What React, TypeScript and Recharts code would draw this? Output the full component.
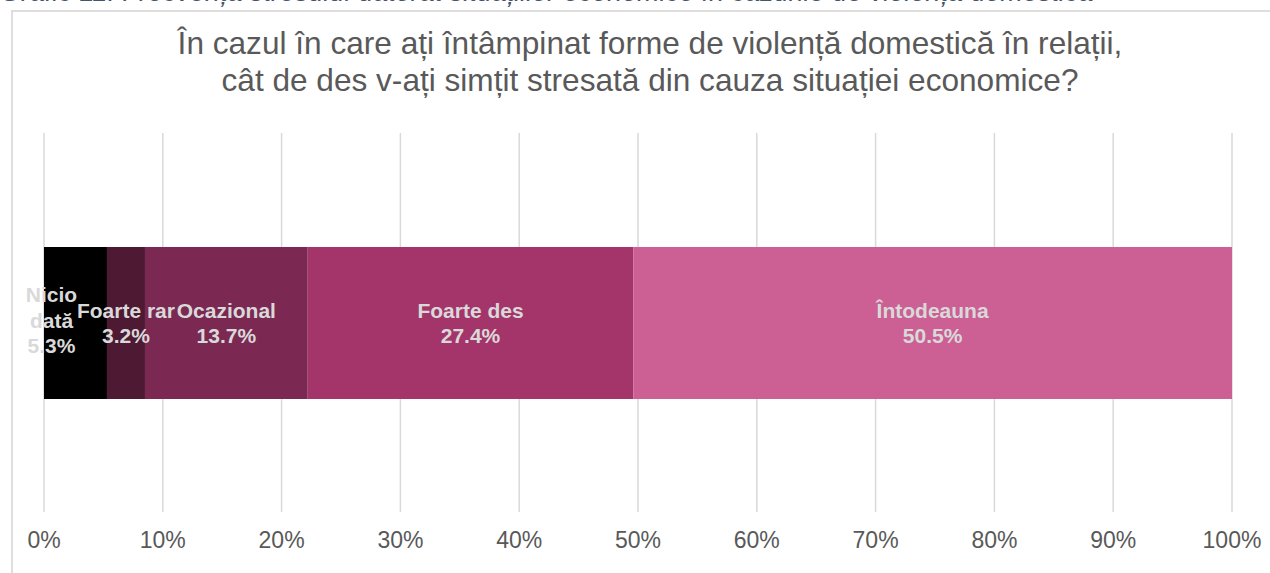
import React from "react";
import { BarChart, Bar, XAxis, YAxis, CartesianGrid, LabelList } from "recharts";

const caption =
  "Grafic 11. Frecvența stresului datorat situațiilor economice în cazurile de violență domestică";
const titleLines = [
  "În cazul în care ați întâmpinat forme de violență domestică în relații,",
  "cât de des v-ați simțit stresată din cauza situației economice?",
];
const categories = ["Nicio dată", "Foarte rar", "Ocazional", "Foarte des", "Întodeauna"];
const values = [5.3, 3.2, 13.7, 27.4, 50.5];
const colors = ["#000000", "#4e1a33", "#7b2953", "#a4356b", "#cc6095"];
const labelLines = [["Nicio", "dată"], ["Foarte rar"], ["Ocazional"], ["Foarte des"], ["Întodeauna"]];
const ticks = [0, 10, 20, 30, 40, 50, 60, 70, 80, 90, 100];

const FONT = "'Liberation Sans', Arial, sans-serif";

const row: Record<string, any> = { group: "all" };
categories.forEach((_, i) => {
  row[`s${i}`] = values[i];
});
const data = [row];

function makeLabel(i: number) {
  return (props: any) => {
    const x = Number(props.x);
    const y = Number(props.y);
    const w = Number(props.width);
    const h = Number(props.height);
    const lines = [...labelLines[i], values[i].toFixed(1) + "%"];
    // narrow first segment: Excel pushes the wrapped label toward the left edge
    const dx = i === 0 ? -24 : 0;
    const cx = x + w / 2 + dx;
    const cy = y + h / 2 - (lines.length > 2 ? 3 : 0);
    const lh = 25.5;
    const start = cy - ((lines.length - 1) * lh) / 2;
    return (
      <text
        textAnchor="middle"
        fill="#d9d9d9"
        fontSize={21}
        fontWeight="bold"
        fontFamily={FONT}
      >
        {lines.map((l, k) => (
          <tspan key={k} x={cx} y={start + k * lh} dy="0.36em">
            {l}
          </tspan>
        ))}
      </text>
    );
  };
}

export default function App() {
  return (
    <div
      style={{
        position: "absolute",
        left: 0,
        top: 0,
        width: 1270,
        height: 573,
        overflow: "hidden",
        background: "#ffffff",
        fontFamily: FONT,
      }}
    >
      <div
        style={{
          position: "absolute",
          left: 0,
          top: -24,
          whiteSpace: "nowrap",
          fontStyle: "italic",
          fontSize: 27,
          lineHeight: "32px",
          color: "#44546a",
        }}
      >
        {caption}
      </div>
      <div
        style={{
          position: "absolute",
          left: 11,
          top: 10,
          width: 1320,
          height: 620,
          border: "2px solid #dedede",
          boxSizing: "border-box",
        }}
      />
      {titleLines.map((t, k) => (
        <div
          key={k}
          style={{
            position: "absolute",
            left: 0,
            width: 1300,
            top: 25 + k * 37,
            textAlign: "center",
            fontSize: 31.6,
            lineHeight: "37px",
            color: "#595959",
            whiteSpace: "nowrap",
          }}
        >
          {t}
        </div>
      ))}
      <div style={{ position: "absolute", left: 0, top: 0 }}>
        <BarChart
          width={1300}
          height={573}
          data={data}
          layout="vertical"
          margin={{ top: 133, right: 68, bottom: 0, left: 44 }}
        >
          <CartesianGrid
            horizontal={false}
            vertical={true}
            stroke="#d9d9d9"
            strokeWidth={1.5}
          />
          <XAxis
            type="number"
            domain={[0, 100]}
            allowDataOverflow
            ticks={ticks}
            tickFormatter={(v: number) => `${v}%`}
            axisLine={false}
            tickLine={false}
            tickSize={6}
            tickMargin={14}
            height={61}
            interval={0}
            tick={{ fill: "#595959", fontSize: 23, fontFamily: FONT }}
          />
          <YAxis type="category" dataKey="group" hide />
          {categories.map((c, i) => (
            <Bar
              key={c}
              dataKey={`s${i}`}
              name={c}
              stackId="a"
              fill={colors[i]}
              barSize={152}
              isAnimationActive={false}
            >
              <LabelList dataKey={`s${i}`} content={makeLabel(i)} />
            </Bar>
          ))}
        </BarChart>
      </div>
    </div>
  );
}
